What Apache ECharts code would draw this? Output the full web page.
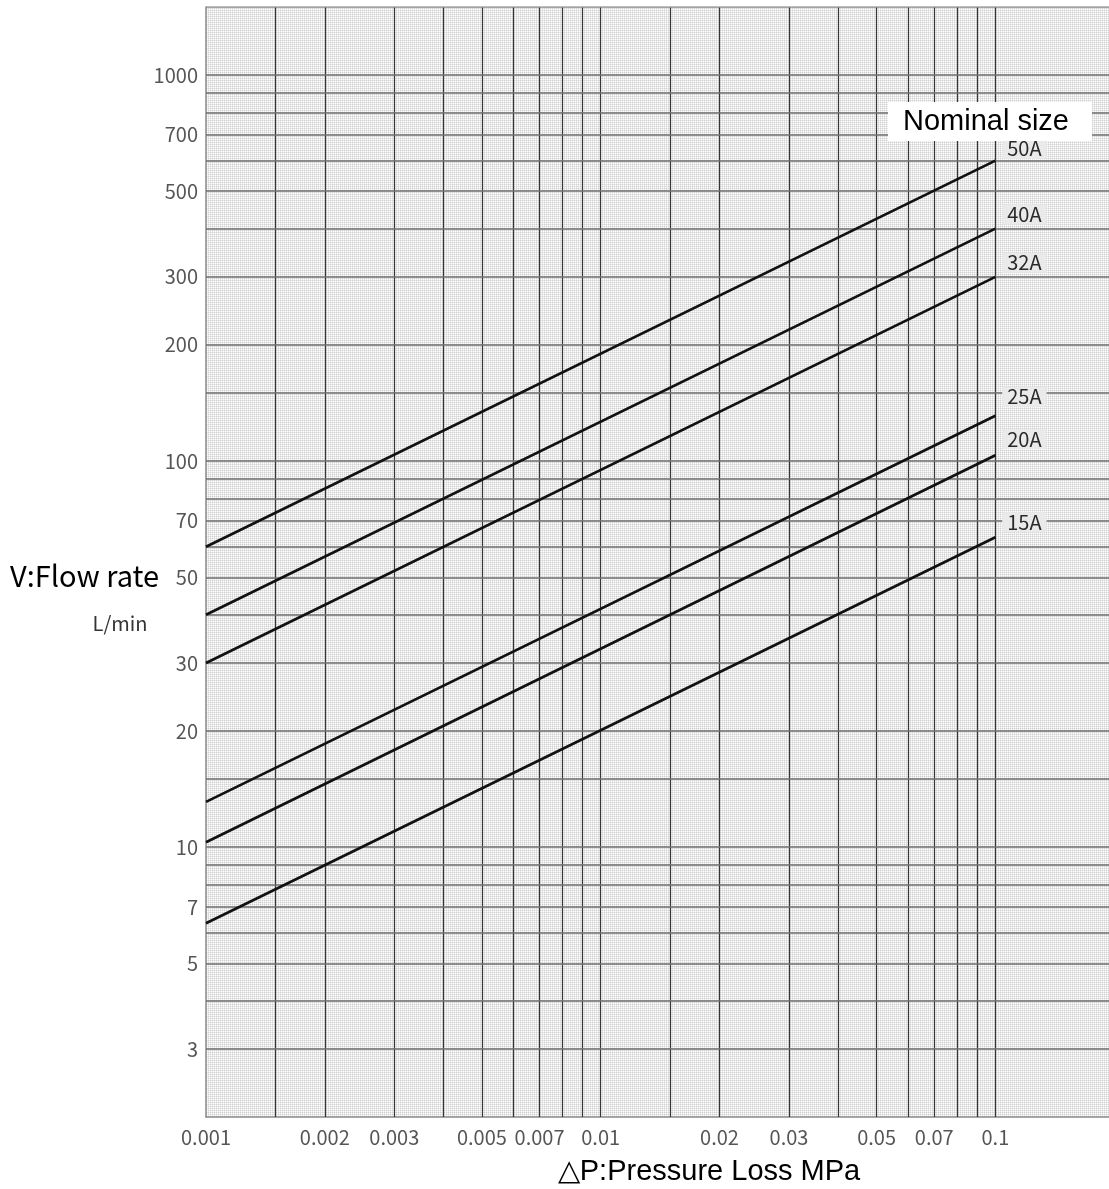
<!DOCTYPE html>
<html>
<head>
<meta charset="utf-8">
<script src="https://cdn.jsdelivr.net/npm/echarts@6/dist/echarts.min.js"></script>
<style>
html,body{margin:0;padding:0;background:#fff;}
#chart{width:1109px;height:1189px;}
</style>
</head>
<body>
<div id="chart"></div>
<script>
// ---- data ----
const xMin = 0.001, xMax = 0.194;
const yMin = 2, yMax = 1500;
const xTickValues = [0.001, 0.002, 0.003, 0.005, 0.007, 0.01, 0.02, 0.03, 0.05, 0.07, 0.1];
const yTickValues = [1000, 700, 500, 300, 200, 100, 70, 50, 30, 20, 10, 7, 5, 3];
const xGridValues = [0.0015, 0.002, 0.003, 0.004, 0.005, 0.006, 0.007, 0.008, 0.009, 0.01,
                     0.015, 0.02, 0.03, 0.04, 0.05, 0.06, 0.07, 0.08, 0.09, 0.1];
const yGridValues = [1000, 900, 800, 700, 600, 500, 400, 300, 200, 150,
                     100, 90, 80, 70, 60, 50, 40, 30, 20, 15,
                     10, 9, 8, 7, 6, 5, 4, 3];
const sizeNames = ['50A', '40A', '32A', '25A', '20A', '15A'];
const pressureX = [0.001, 0.1];
const flow50A = [60, 600];
const flow40A = [40, 400];
const flow32A = [30, 300];
const flow25A = [13.1, 131];
const flow20A = [10.3, 103.5];
const flow15A = [6.35, 63.5];
const flowSeries = [flow50A, flow40A, flow32A, flow25A, flow20A, flow15A];
const labelOffsets = [[29, -12], [29, -14], [29, -14], [29, -19], [29, -16], [29, -15]];

// ---- background pattern ----
const pc = document.createElement('canvas');
pc.width = 2; pc.height = 2;
const pctx = pc.getContext('2d');
pctx.fillStyle = '#ffffff'; pctx.fillRect(0, 0, 2, 2);
pctx.fillStyle = '#d2d2d2'; pctx.fillRect(0, 0, 1, 1);
pctx.fillStyle = '#e8e8e8'; pctx.fillRect(1, 0, 1, 1); pctx.fillRect(0, 1, 1, 1);
const bgPattern = { image: pc, repeat: 'repeat' };
const bgFlat = '#eaeaea';

const tickFont = '"Noto Sans CJK JP", "Noto Sans", sans-serif';
const titleFont = '"Liberation Sans", Arial, sans-serif';
const borderColor = '#8a8a8a';

const series = [];
// vertical grid lines
series.push({
  type: 'lines', coordinateSystem: 'cartesian2d', silent: true, z: 2,
  lineStyle: { color: '#353535', width: 1.2, opacity: 1 },
  data: xGridValues.map(v => ({ coords: [[v, yMin], [v, yMax]] }))
});
// horizontal grid lines
series.push({
  type: 'lines', coordinateSystem: 'cartesian2d', silent: true, z: 2,
  lineStyle: { color: '#6e6e6e', width: 1.6, opacity: 1 },
  data: yGridValues.map(v => ({ coords: [[xMin, v], [xMax, v]] }))
});
// top border
series.push({
  type: 'lines', coordinateSystem: 'cartesian2d', silent: true, z: 2,
  lineStyle: { color: borderColor, width: 1.5, opacity: 1 },
  data: [{ coords: [[xMin, yMax], [xMax, yMax]] }]
});
// flow lines
sizeNames.forEach((name, i) => {
  const vals = flowSeries[i];
  series.push({
    name: name, type: 'line', z: 5,
    symbol: 'circle', symbolSize: 0, showSymbol: true,
    lineStyle: { color: '#111', width: 2.7 },
    itemStyle: { color: '#111' },
    data: [
      [pressureX[0], vals[0]],
      {
        value: [pressureX[1], vals[1]],
        label: {
          show: true, position: 'inside', offset: labelOffsets[i],
          formatter: name, color: '#2a2a2a', fontSize: 20, fontFamily: tickFont,
          backgroundColor: bgFlat, padding: [0, 5]
        }
      }
    ]
  });
});
// x tick labels
series.push({
  type: 'scatter', silent: true, clip: false, z: 6,
  symbolSize: 0,
  data: xTickValues.map(v => [v, yMin]),
  label: {
    show: true, position: 'bottom', distance: 10,
    formatter: p => String(p.value[0]),
    color: '#2a2a2a', fontSize: 20, fontFamily: tickFont
  }
});
// y tick labels
series.push({
  type: 'scatter', silent: true, clip: false, z: 6,
  symbolSize: 0,
  data: yTickValues.map(v => [xMin, v]),
  label: {
    show: true, position: 'left', distance: 8,
    formatter: p => String(p.value[1]),
    color: '#2a2a2a', fontSize: 20, fontFamily: tickFont
  }
});

const chart = echarts.init(document.getElementById('chart'), null, { renderer: 'canvas' });
chart.setOption({
  animation: false,
  backgroundColor: '#ffffff',
  grid: {
    left: 206, top: 7, right: 0, height: 1110,
    show: true, backgroundColor: bgPattern,
    borderWidth: 0
  },
  xAxis: {
    type: 'log', logBase: 10, min: xMin, max: xMax,
    axisLine: { show: true, lineStyle: { color: borderColor, width: 1.5 } },
    axisTick: { show: false }, axisLabel: { show: false },
    splitLine: { show: false }, minorSplitLine: { show: false }
  },
  yAxis: {
    type: 'log', logBase: 10, min: yMin, max: yMax,
    axisLine: { show: true, lineStyle: { color: borderColor, width: 1.5 } },
    axisTick: { show: false }, axisLabel: { show: false },
    splitLine: { show: false }, minorSplitLine: { show: false }
  },
  series: series,
  graphic: [
    { type: 'rect', z: 100, shape: { x: 888, y: 102, width: 204, height: 39 }, style: { fill: '#ffffff' } },
    { type: 'text', z: 101, x: 903, y: 122,
      style: { text: 'Nominal size', font: '29px ' + titleFont, fill: '#000', align: 'left', verticalAlign: 'middle' } },
    { type: 'text', z: 101, x: 10, y: 576,
      style: { text: 'V:Flow rate', font: '29px ' + tickFont, fill: '#000', align: 'left', verticalAlign: 'middle' } },
    { type: 'text', z: 101, x: 120, y: 623,
      style: { text: 'L/min', font: '20px ' + tickFont, fill: '#333', align: 'center', verticalAlign: 'middle' } },
    { type: 'text', z: 101, x: 709, y: 1172,
      style: { text: '\u25B3P:Pressure Loss MPa', font: '29px ' + titleFont, fill: '#000', align: 'center', verticalAlign: 'middle' } }
  ]
});
</script>
</body>
</html>
